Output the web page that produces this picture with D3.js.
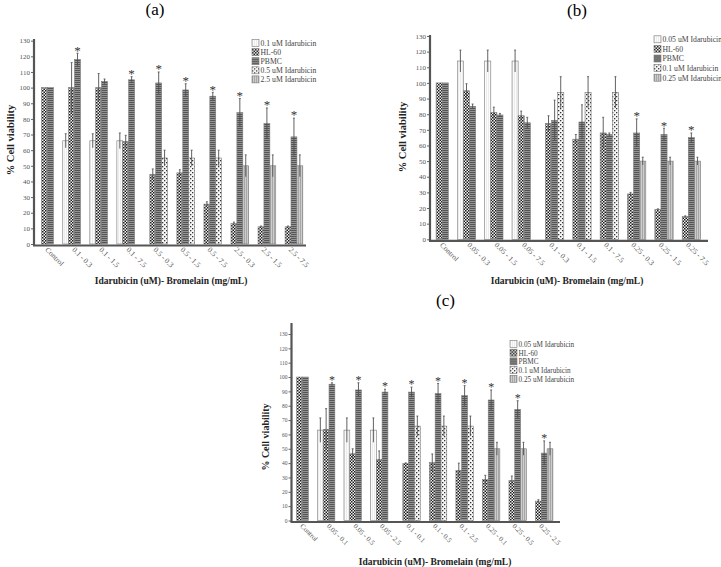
<!DOCTYPE html>
<html>
<head>
<meta charset="utf-8">
<script src="https://cdn.jsdelivr.net/npm/d3@7"></script>
<style>
  body { margin: 0; background: #fff; }
  svg { display: block; font-family: "Liberation Serif", "Times New Roman", serif; }
</style>
</head>
<body>
<div id="chart"></div>
<script>
// ---- shared ----
var yTicks = d3.range(0, 131, 10);
var xTitle = "Idarubicin (uM)- Bromelain (mg/mL)";
var yTitle = "% Cell viability";

// ---- panel (a) ----
var catsA = ["Control", "0.1 - 0.3", "0.1 - 1.5", "0.1 - 7.5", "0.5 - 0.3", "0.5 - 1.5", "0.5 - 7.5", "2.5 - 0.3", "2.5 - 1.5", "2.5 - 7.5"];
var legendA = ["0.1 uM Idarubicin", "HL-60", "PBMC", "0.5 uM Idarubicin", "2.5 uM Idarubicin"];
var lowA     = [null, 66, 66, 66, null, null, null, null, null, null];
var lowErrA  = [0, 4.5, 4.5, 5, 0, 0, 0, 0, 0, 0];
var hl60A    = [100, 100, 100, 65.5, 44.5, 45.5, 25.5, 13, 11, 11];
var hl60ErrA = [0, 16, 9, 4, 3.5, 2, 1.5, 1, 0.5, 0.5];
var pbmcA    = [100, 118, 104, 105, 103, 98.5, 94.5, 84, 77, 68.5];
var pbmcErrA = [0, 4, 1.5, 2, 7, 4, 2.5, 9, 10, 12];
var midA     = [null, null, null, null, 55, 55, 55, null, null, null];
var midErrA  = [0, 0, 0, 0, 5, 5, 5, 0, 0, 0];
var highA    = [null, null, null, null, null, null, null, 50, 50, 50];
var highErrA = [0, 0, 0, 0, 0, 0, 0, 7, 7, 7];
var starsA   = [0, 1, 0, 1, 1, 1, 1, 1, 1, 1];

// ---- panel (b) ----
var catsB = ["Control", "0.05 - 0.3", "0.05 - 1.5", "0.05 - 7.5", "0.1 - 0.3", "0.1 - 1.5", "0.1 - 7.5", "0.25 - 0.3", "0.25 - 1.5", "0.25 - 7.5"];
var legendB = ["0.05 uM Idarubicin", "HL-60", "PBMC", "0.1 uM Idarubicin", "0.25 uM Idarubicin"];
var lowB     = [null, 114, 114, 114, null, null, null, null, null, null];
var lowErrB  = [0, 7, 7, 7, 0, 0, 0, 0, 0, 0];
var hl60B    = [100, 95, 81, 79, 74, 64, 68, 29, 19, 14.5];
var hl60ErrB = [0, 4.5, 3.5, 3, 5, 3, 10, 1, 0.5, 0.5];
var pbmcB    = [100, 85, 79.5, 74.5, 76, 75, 67, 68, 67, 65];
var pbmcErrB = [0, 1.5, 1, 3.5, 13, 11, 1, 9, 4, 3];
var midB     = [null, null, null, null, 94, 94, 94, null, null, null];
var midErrB  = [0, 0, 0, 0, 10, 10, 10, 0, 0, 0];
var highB    = [null, null, null, null, null, null, null, 50, 50, 50];
var highErrB = [0, 0, 0, 0, 0, 0, 0, 2.5, 2.5, 2.5];
var starsB   = [0, 0, 0, 0, 0, 0, 0, 1, 1, 1];

// ---- panel (c) ----
var catsC = ["Control", "0.05 - 0.1", "0.05 - 0.5", "0.05 - 2.5", "0.1 - 0.1", "0.1 - 0.5", "0.1 - 2.5", "0.25 - 0.1", "0.25 - 0.5", "0.25 - 2.5"];
var legendC = ["0.05 uM Idarubicin", "HL-60", "PBMC", "0.1 uM Idarubicin", "0.25 uM Idarubicin"];
var lowC     = [null, 63, 63, 63, null, null, null, null, null, null];
var lowErrC  = [0, 8.5, 8.5, 8.5, 0, 0, 0, 0, 0, 0];
var hl60C    = [100, 63.5, 46.5, 42.5, 39.7, 40.4, 35, 28.5, 28, 13.5];
var hl60ErrC = [0, 14.5, 3.5, 6, 0.5, 6, 5, 3, 3, 1];
var pbmcC    = [100, 95, 91, 89.5, 89.5, 88.5, 87, 84, 77.5, 47];
var pbmcErrC = [0, 1, 5, 2, 3.5, 7, 7, 7, 6, 8.5];
var midC     = [null, null, null, null, 65.8, 65.8, 65.8, null, null, null];
var midErrC  = [0, 0, 0, 0, 7, 7, 7, 0, 0, 0];
var highC    = [null, null, null, null, null, null, null, 50, 50, 50];
var highErrC = [0, 0, 0, 0, 0, 0, 0, 4.5, 4.5, 4.5];
var starsC   = [0, 1, 1, 1, 1, 1, 1, 1, 1, 1];

var W = 721, H = 567;
var svg = d3.select("#chart").append("svg").attr("width", W).attr("height", H);

// fill patterns for the bar series
var defs = svg.append("defs");
function pattern(id, w, h, bg, draw) {
  var p = defs.append("pattern").attr("id", id)
      .attr("patternUnits", "userSpaceOnUse").attr("width", w).attr("height", h);
  p.append("rect").attr("width", w).attr("height", h).attr("fill", bg);
  draw(p);
}
pattern("pLow", 2, 2, "#fbfbfb", function(p) {
  p.append("rect").attr("width", 0.6).attr("height", 2).attr("fill", "#e2e2e2");
});
pattern("pHL", 3, 3, "#f2f2f2", function(p) {
  p.append("rect").attr("width", 1.5).attr("height", 1.5).attr("fill", "#1a1a1a");
  p.append("rect").attr("x", 1.5).attr("y", 1.5).attr("width", 1.5).attr("height", 1.5).attr("fill", "#1a1a1a");
});
pattern("pPB", 2, 2, "#949494", function(p) {
  p.append("rect").attr("width", 2).attr("height", 1).attr("fill", "#555");
});
pattern("pMid", 4, 4, "#f6f6f6", function(p) {
  p.append("rect").attr("width", 1.3).attr("height", 1.3).attr("fill", "#333");
  p.append("rect").attr("x", 2).attr("y", 2).attr("width", 1.3).attr("height", 1.3).attr("fill", "#333");
});
pattern("pHigh", 2, 2, "#cdcdcd", function(p) {
  p.append("rect").attr("width", 0.8).attr("height", 2).attr("fill", "#9c9c9c");
});
var patternIds = ["pLow", "pHL", "pPB", "pMid", "pHigh"];
var slotOf = [0, 1, 2, 3, 3];

function drawPanel(p) {
  var g = svg.append("g");
  var y = d3.scaleLinear().domain([0, 130]).range([p.y0, p.y130]);
  var x = d3.scalePoint().domain(p.cats).range([p.tick0, p.tickN]);
  var slot = d3.scaleBand().domain([0, 1, 2, 3]).range([-2 * p.slotW, 2 * p.slotW]);

  // title
  g.append("text").attr("x", p.titleX).attr("y", p.titleY)
    .attr("text-anchor", "middle").style("font-size", p.titleSize + "px").text(p.title);

  // bars + error bars
  p.series.forEach(function(s, si) {
    var rows = p.cats.map(function(c, i) {
      return {c: c, v: s.values[i], e: s.errors[i]};
    }).filter(function(d) { return d.v != null; });
    var sx = function(d) { return x(d.c) + slot(slotOf[si]); };

    g.selectAll(null).data(rows).enter().append("rect")
      .attr("x", sx)
      .attr("y", function(d) { return y(d.v); })
      .attr("width", slot.bandwidth())
      .attr("height", function(d) { return y(0) - y(d.v); })
      .attr("fill", "url(#" + patternIds[si] + ")")
      .attr("stroke", "#7a7a7a").attr("stroke-width", 0.6);

    var withErr = rows.filter(function(d) { return d.e > 0; });
    g.selectAll(null).data(withErr).enter().append("line")
      .attr("x1", function(d) { return sx(d) + slot.bandwidth() / 2; })
      .attr("x2", function(d) { return sx(d) + slot.bandwidth() / 2; })
      .attr("y1", function(d) { return y(d.v - d.e); })
      .attr("y2", function(d) { return y(d.v + d.e); })
      .attr("stroke", "#505050").attr("stroke-width", 0.9);
    g.selectAll(null).data(withErr).enter().append("line")
      .attr("x1", function(d) { return sx(d) + slot.bandwidth() / 2 - 1; })
      .attr("x2", function(d) { return sx(d) + slot.bandwidth() / 2 + 1; })
      .attr("y1", function(d) { return y(d.v + d.e); })
      .attr("y2", function(d) { return y(d.v + d.e); })
      .attr("stroke", "#505050").attr("stroke-width", 0.8);
  });

  // significance stars over PBMC bars
  var pb = p.series[2];
  var starRows = p.cats.map(function(c, i) {
    return {c: c, top: pb.values[i] + pb.errors[i], s: p.stars[i]};
  }).filter(function(d) { return d.s; });
  g.selectAll(null).data(starRows).enter().append("text")
    .attr("x", function(d) { return x(d.c) + slot(2) + slot.bandwidth() / 2; })
    .attr("y", function(d) { return y(d.top) + p.starSize * 0.1; })
    .attr("text-anchor", "middle")
    .style("font-size", p.starSize + "px").attr("fill", "#333")
    .text("*");

  // y axis
  var ya = g.append("g").attr("transform", "translate(" + p.axisX + ",0)")
    .call(d3.axisLeft(y).tickValues(yTicks).tickSize(3).tickPadding(1));
  ya.select(".domain").remove();
  ya.selectAll(".tick line").attr("stroke", "#666");
  ya.selectAll(".tick text").attr("fill", "#555")
    .style("font-family", "Liberation Serif").style("font-size", p.tickSize + "px");
  g.append("line").attr("x1", p.axisX).attr("x2", p.axisX)
    .attr("y1", p.yAxisTop).attr("y2", y(0) + 1.5)
    .attr("stroke", "#555").attr("stroke-width", 2.2);

  // x axis
  var xa = g.append("g").attr("transform", "translate(0," + (y(0) + 1.5) + ")")
    .call(d3.axisBottom(x).tickSize(0));
  xa.select(".domain").remove();
  xa.selectAll(".tick text")
    .attr("x", 1).attr("y", 3).attr("dy", "0.35em")
    .attr("transform", "rotate(45)")
    .style("text-anchor", "start")
    .style("font-family", "Liberation Serif")
    .style("font-size", p.xTickSize + "px").attr("fill", "#555");
  g.append("line").attr("x1", p.axisX - 1).attr("x2", p.xEnd)
    .attr("y1", y(0) + 1.5).attr("y2", y(0) + 1.5)
    .attr("stroke", "#555").attr("stroke-width", 2.2);

  // axis titles
  g.append("text").attr("x", p.xLabelX).attr("y", p.xLabelY)
    .attr("text-anchor", "middle").style("font-weight", "bold")
    .style("font-size", p.xLabelSize + "px").attr("fill", "#222").text(xTitle);
  g.append("text")
    .attr("transform", "translate(" + p.yLabelX + "," + p.yLabelY + ") rotate(-90)")
    .attr("text-anchor", "middle").style("font-weight", "bold")
    .style("font-size", p.labelSize + "px").attr("fill", "#222").text(yTitle);

  // legend
  var lg = g.append("g").attr("transform", "translate(" + p.legendX + "," + p.legendY + ")");
  var items = lg.selectAll(null).data(p.legend).enter().append("g")
    .attr("transform", function(d, i) { return "translate(0," + (i * p.legendStep) + ")"; });
  items.append("rect").attr("x", 0).attr("y", -3.5).attr("width", 7).attr("height", 7)
    .attr("fill", function(d, i) { return "url(#" + patternIds[i] + ")"; })
    .attr("stroke", "#777").attr("stroke-width", 0.6);
  items.append("text").attr("x", 8.5).attr("y", 2.8)
    .style("font-size", p.legendSize + "px").attr("fill", "#444")
    .text(function(d) { return d; });
}

drawPanel({
  title: "(a)", titleX: 155, titleY: 14.5, titleSize: 17,
  cats: catsA, legend: legendA, stars: starsA,
  series: [
    {values: lowA, errors: lowErrA}, {values: hl60A, errors: hl60ErrA},
    {values: pbmcA, errors: pbmcErrA}, {values: midA, errors: midErrA},
    {values: highA, errors: highErrA}
  ],
  axisX: 34, y0: 244, y130: 40.7, yAxisTop: 39, tick0: 47.5, tickN: 291, slotW: 5.9, xEnd: 306,
  legendX: 252, legendY: 43, legendStep: 9.1, legendSize: 7.7,
  xLabelX: 171, xLabelY: 284, xLabelSize: 9.5, yLabelX: 14, yLabelY: 140, labelSize: 10.5,
  tickSize: 7, xTickSize: 7.5, starSize: 13
});

drawPanel({
  title: "(b)", titleX: 577, titleY: 15.5, titleSize: 17,
  cats: catsB, legend: legendB, stars: starsB,
  series: [
    {values: lowB, errors: lowErrB}, {values: hl60B, errors: hl60ErrB},
    {values: pbmcB, errors: pbmcErrB}, {values: midB, errors: midErrB},
    {values: highB, errors: highErrB}
  ],
  axisX: 430, y0: 239.3, y130: 36, yAxisTop: 35, tick0: 442.2, tickN: 688.3, slotW: 6.1, xEnd: 708,
  legendX: 654, legendY: 39.3, legendStep: 9.6, legendSize: 7.7,
  xLabelX: 567, xLabelY: 284, xLabelSize: 9.5, yLabelX: 406, yLabelY: 137, labelSize: 10.5,
  tickSize: 7, xTickSize: 7.5, starSize: 13
});

drawPanel({
  title: "(c)", titleX: 445.5, titleY: 305.5, titleSize: 17,
  cats: catsC, legend: legendC, stars: starsC,
  series: [
    {values: lowC, errors: lowErrC}, {values: hl60C, errors: hl60ErrC},
    {values: pbmcC, errors: pbmcErrC}, {values: midC, errors: midErrC},
    {values: highC, errors: highErrC}
  ],
  axisX: 291.5, y0: 520.5, y130: 334, yAxisTop: 323, tick0: 302.5, tickN: 541.3, slotW: 5.8, xEnd: 560,
  legendX: 510, legendY: 344, legendStep: 8.7, legendSize: 7.2,
  xLabelX: 435, xLabelY: 565, xLabelSize: 9.5, yLabelX: 269, yLabelY: 437, labelSize: 10,
  tickSize: 5.5, xTickSize: 7, starSize: 12
});
</script>
</body>
</html>
